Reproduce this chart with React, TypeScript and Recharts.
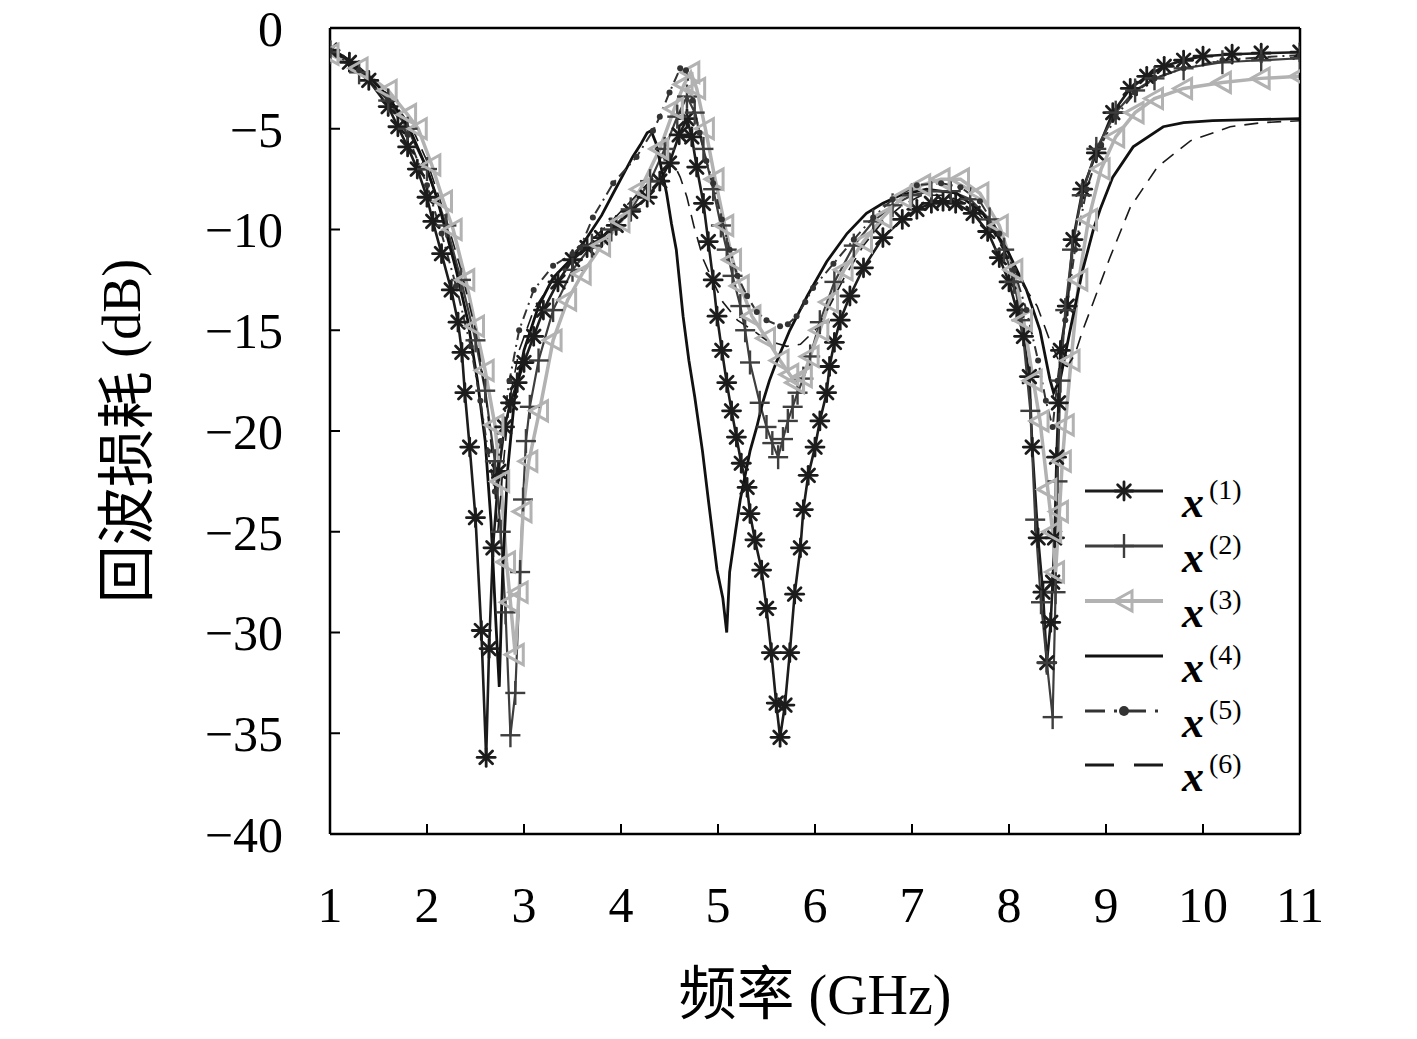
import React from 'react';
import { LineChart, Line, XAxis, YAxis } from 'recharts';

// ---- data (frequency in GHz, return loss in dB) ----
const freq1 = [1.0,1.2,1.4,1.6,1.7,1.8,1.9,2.0,2.06,2.15,2.25,2.32,2.36,2.39,2.44,2.5,2.56,2.61,2.64,2.68,2.74,2.8,2.86,2.93,3.0,3.1,3.2,3.35,3.5,3.65,3.8,3.95,4.1,4.27,4.4,4.5,4.6,4.68,4.73,4.78,4.85,4.9,4.95,4.99,5.04,5.09,5.14,5.19,5.24,5.3,5.33,5.38,5.45,5.5,5.55,5.6,5.64,5.69,5.74,5.79,5.85,5.88,5.93,6.0,6.05,6.12,6.15,6.2,6.26,6.36,6.5,6.7,6.9,7.05,7.2,7.32,7.45,7.63,7.78,7.9,8.0,8.08,8.15,8.21,8.24,8.3,8.35,8.39,8.43,8.45,8.47,8.49,8.51,8.53,8.6,8.66,8.76,8.9,9.07,9.25,9.42,9.6,9.8,10.0,10.3,10.6,11.0];
const loss1 = [-1.1,-1.7,-2.6,-3.9,-4.9,-5.9,-7.0,-8.4,-9.6,-11.2,-13.0,-14.6,-16.1,-18.1,-20.8,-24.3,-29.9,-36.2,-30.8,-25.8,-22.0,-19.8,-18.6,-17.6,-16.6,-15.3,-14.0,-12.6,-11.5,-10.9,-10.4,-9.8,-9.1,-8.4,-7.6,-6.7,-5.3,-4.5,-5.4,-6.9,-8.7,-10.6,-12.5,-14.3,-16.0,-17.6,-19.0,-20.3,-21.6,-22.8,-24.1,-25.4,-26.9,-28.8,-31.0,-33.5,-35.2,-33.6,-31.0,-28.1,-25.8,-23.9,-22.2,-20.8,-19.5,-18.1,-16.8,-15.6,-14.5,-13.3,-11.9,-10.4,-9.5,-9.0,-8.7,-8.6,-8.7,-9.2,-10.1,-11.4,-12.6,-14.0,-15.3,-17.3,-20.8,-25.3,-28.0,-31.5,-29.5,-27.5,-25.3,-21.3,-18.6,-16.0,-13.8,-10.5,-8.0,-6.2,-4.2,-3.0,-2.4,-1.9,-1.6,-1.4,-1.3,-1.25,-1.2];

const freq2 = [1.0,1.3,1.6,1.8,2.0,2.2,2.35,2.5,2.6,2.7,2.76,2.81,2.86,2.91,2.96,2.99,3.02,3.06,3.15,3.3,3.5,3.7,3.9,4.1,4.3,4.45,4.58,4.68,4.76,4.85,4.95,5.03,5.09,5.15,5.23,5.28,5.33,5.43,5.5,5.56,5.62,5.67,5.72,5.77,5.82,5.88,5.95,6.05,6.2,6.4,6.6,6.8,7.0,7.2,7.4,7.6,7.8,7.95,8.05,8.13,8.22,8.27,8.33,8.39,8.45,8.48,8.5,8.53,8.58,8.65,8.75,8.9,9.1,9.3,9.5,9.8,10.2,10.6,11.0];
const loss2 = [-1.2,-2.2,-3.6,-5.0,-7.0,-9.8,-12.5,-15.5,-18.0,-21.5,-25.0,-29.0,-35.1,-33.0,-27.0,-23.4,-20.5,-18.8,-16.5,-14.0,-12.0,-10.8,-10.0,-9.0,-7.6,-6.0,-4.4,-3.4,-4.2,-6.0,-8.0,-9.8,-11.0,-12.3,-13.8,-15.0,-16.6,-18.6,-19.8,-20.6,-21.3,-20.4,-19.5,-18.8,-18.1,-17.4,-16.3,-14.6,-12.6,-10.8,-9.6,-8.8,-8.3,-8.1,-8.1,-8.5,-9.5,-11.0,-12.6,-14.5,-19.0,-24.4,-28.5,-31.5,-34.2,-28.0,-22.5,-17.5,-14.0,-11.0,-8.3,-6.0,-4.2,-3.1,-2.5,-2.0,-1.7,-1.6,-1.5];

const freq3 = [1.0,1.3,1.6,1.8,1.91,2.05,2.17,2.27,2.4,2.5,2.6,2.7,2.76,2.82,2.86,2.91,2.95,2.99,3.05,3.16,3.3,3.45,3.6,3.8,4.0,4.2,4.4,4.55,4.65,4.72,4.78,4.87,4.97,5.07,5.15,5.23,5.35,5.5,5.64,5.74,5.8,5.88,5.95,6.05,6.15,6.3,6.5,6.7,6.9,7.1,7.3,7.5,7.7,7.9,8.05,8.15,8.25,8.32,8.4,8.45,8.48,8.52,8.55,8.58,8.64,8.72,8.82,8.95,9.1,9.3,9.5,9.8,10.2,10.6,11.0];
const loss3 = [-1.3,-2.0,-3.1,-4.3,-5.0,-6.8,-8.6,-10.0,-12.5,-14.8,-17.0,-19.7,-22.5,-26.5,-28.5,-31.1,-28.0,-24.0,-21.5,-19.0,-15.5,-13.5,-12.2,-10.8,-9.6,-8.0,-6.0,-4.0,-2.8,-2.2,-3.0,-5.0,-7.5,-9.8,-11.5,-12.8,-14.3,-15.4,-16.5,-17.2,-17.6,-17.3,-16.3,-15.0,-13.6,-12.0,-10.6,-9.4,-8.4,-7.8,-7.5,-7.5,-8.2,-9.8,-12.0,-14.5,-17.5,-19.5,-22.9,-25.0,-27.0,-24.0,-21.5,-19.7,-16.5,-12.5,-9.5,-7.0,-5.4,-4.2,-3.5,-3.0,-2.7,-2.5,-2.4];

const freq4 = [1.0,1.2,1.4,1.6,1.82,2.0,2.1,2.19,2.3,2.42,2.52,2.6,2.66,2.71,2.745,2.78,2.83,2.9,3.0,3.15,3.3,3.5,3.65,3.8,3.92,4.02,4.12,4.2,4.27,4.31,4.36,4.4,4.47,4.52,4.57,4.64,4.7,4.76,4.84,4.9,4.99,5.05,5.09,5.12,5.18,5.23,5.28,5.33,5.4,5.46,5.53,5.6,5.74,5.92,6.12,6.33,6.53,6.7,6.88,7.15,7.46,7.73,7.98,8.18,8.32,8.42,8.46,8.53,8.63,8.76,8.87,8.94,9.07,9.28,9.59,9.8,10.1,10.5,11.0];
const loss4 = [-1.0,-1.6,-2.4,-3.4,-5.0,-7.0,-8.4,-10.0,-12.0,-14.5,-17.5,-20.5,-24.5,-29.5,-32.7,-27.0,-22.0,-18.5,-16.0,-13.8,-12.4,-11.4,-10.4,-9.3,-8.2,-7.3,-6.4,-5.8,-5.2,-5.1,-5.7,-6.6,-8.2,-9.7,-11.0,-14.3,-16.5,-18.3,-21.0,-23.4,-26.9,-28.3,-30.0,-27.0,-25.0,-23.4,-22.2,-21.0,-19.8,-18.6,-17.5,-16.6,-15.0,-13.3,-11.6,-10.2,-9.2,-8.7,-8.3,-8.0,-8.2,-9.2,-11.0,-13.0,-15.0,-17.4,-18.1,-17.4,-15.0,-12.0,-10.0,-9.0,-7.4,-5.9,-4.9,-4.7,-4.6,-4.55,-4.5];

const freq5 = [1.0,1.3,1.6,1.8,2.0,2.15,2.3,2.45,2.55,2.63,2.7,2.76,2.85,2.95,3.1,3.3,3.5,3.58,3.71,3.92,4.16,4.33,4.4,4.5,4.61,4.67,4.74,4.81,4.88,4.95,5.04,5.12,5.2,5.3,5.4,5.5,5.64,5.72,5.81,5.9,5.98,6.19,6.4,6.6,6.8,7.05,7.3,7.5,7.7,7.9,8.05,8.18,8.3,8.38,8.45,8.5,8.58,8.68,8.8,8.95,9.1,9.3,9.5,9.8,10.2,10.6,11.0];
const loss5 = [-1.1,-2.1,-3.6,-5.3,-7.8,-10.2,-12.8,-15.8,-18.5,-21.0,-23.0,-20.5,-17.5,-15.0,-13.0,-11.8,-11.2,-10.9,-9.4,-7.7,-6.4,-5.1,-4.4,-3.2,-2.0,-2.1,-3.6,-5.2,-6.6,-7.7,-9.5,-11.0,-12.3,-13.3,-14.1,-14.5,-14.8,-14.7,-14.3,-13.6,-12.9,-11.7,-10.5,-9.4,-8.5,-7.8,-7.7,-7.9,-8.6,-10.2,-12.0,-14.0,-16.5,-18.5,-19.8,-17.5,-14.5,-11.0,-8.0,-5.8,-4.4,-3.2,-2.5,-2.0,-1.6,-1.45,-1.35];

const freq6 = [1.0,1.3,1.6,1.85,2.0,2.2,2.35,2.5,2.6,2.68,2.73,2.78,2.85,2.95,3.1,3.3,3.5,3.7,3.9,4.1,4.3,4.45,4.55,4.61,4.68,4.75,4.85,4.95,5.05,5.2,5.36,5.5,5.71,5.85,6.0,6.15,6.3,6.5,6.7,6.9,7.1,7.35,7.6,7.8,8.0,8.15,8.29,8.42,8.52,8.6,8.68,8.76,8.87,9.04,9.25,9.53,9.87,10.28,10.6,11.0];
const loss6 = [-1.1,-2.0,-3.3,-5.0,-6.6,-9.5,-12.0,-15.0,-18.0,-21.5,-25.0,-22.0,-18.5,-16.0,-14.0,-12.5,-11.5,-10.5,-9.6,-8.6,-7.6,-7.0,-6.8,-7.4,-8.4,-9.8,-11.5,-12.6,-13.6,-14.5,-15.0,-15.5,-15.8,-15.7,-15.0,-13.8,-12.4,-10.8,-9.6,-8.8,-8.3,-8.3,-8.8,-9.8,-11.5,-12.8,-13.8,-15.5,-16.6,-16.8,-16.2,-15.0,-13.6,-11.4,-8.9,-6.9,-5.6,-4.9,-4.7,-4.6];

const xTicks = [1, 2, 3, 4, 5, 6, 7, 8, 9, 10, 11];
const yTicks = [0, -5, -10, -15, -20, -25, -30, -35, -40];
const seriesNames = ['(1)', '(2)', '(3)', '(4)', '(5)', '(6)'];

const toRows = (f: number[], v: number[]) => f.map((x, i) => ({ f: x, v: v[i] }));
const data1 = toRows(freq1, loss1);
const data2 = toRows(freq2, loss2);
const data3 = toRows(freq3, loss3);
const data4 = toRows(freq4, loss4);
const data5 = toRows(freq5, loss5);
const data6 = toRows(freq6, loss6);

// ---- styles ----
const C1 = '#1c1c1c';
const C2 = '#3e3e3e';
const C3 = '#b2b2b2';
const C4 = '#111111';
const C5 = '#333333';
const C6 = '#1a1a1a';

const W = 1400;
const H = 1030;
const PLOT_TOP = 28;
const PLOT_LEFT = 322;
const PLOT_RIGHT = 1292;
const PLOT_BOTTOM = 834;

const AsteriskShape = ({ cx, cy, s = 9, color = C1 }: any) => (
  <g stroke={color} strokeWidth={2.8} strokeLinecap="round">
    <line x1={cx - s} y1={cy} x2={cx + s} y2={cy} />
    <line x1={cx} y1={cy - s} x2={cx} y2={cy + s} />
    <line x1={cx - s * 0.707} y1={cy - s * 0.707} x2={cx + s * 0.707} y2={cy + s * 0.707} />
    <line x1={cx - s * 0.707} y1={cy + s * 0.707} x2={cx + s * 0.707} y2={cy - s * 0.707} />
  </g>
);
const PlusShape = ({ cx, cy, color = C2 }: any) => (
  <g stroke={color} strokeWidth={2.4}>
    <line x1={cx - 10} y1={cy} x2={cx + 10} y2={cy} />
    <line x1={cx} y1={cy - 12} x2={cx} y2={cy + 12} />
  </g>
);
const TriShape = ({ cx, cy, color = C3 }: any) => (
  <polygon
    points={`${cx - 10},${cy} ${cx + 8},${cy - 10} ${cx + 8},${cy + 10}`}
    fill="none"
    stroke={color}
    strokeWidth={3}
  />
);

const dotAsterisk = (p: any) =>
  p.cx == null ? <g key={`a${p.index}`} /> : <g key={`a${p.index}`}><AsteriskShape cx={p.cx} cy={p.cy} /></g>;
const dotPlus = (p: any) =>
  p.cx == null ? <g key={`p${p.index}`} /> : <g key={`p${p.index}`}><PlusShape cx={p.cx} cy={p.cy} /></g>;
const dotTri = (p: any) =>
  p.cx == null ? <g key={`t${p.index}`} /> : <g key={`t${p.index}`}><TriShape cx={p.cx} cy={p.cy} /></g>;
const dotSmall = (p: any) =>
  p.cx == null ? <g key={`s${p.index}`} /> : <circle key={`s${p.index}`} cx={p.cx} cy={p.cy} r={3} fill={C5} />;

const serif = "'Liberation Serif', 'Noto Sans CJK SC', serif";
const cjk = "'Noto Sans CJK SC', sans-serif";
const tickStyle = { fill: '#000', fontSize: 50, fontFamily: serif };
const minusFmt = (v: number) => (v === 0 ? '0' : '\u2212' + Math.abs(v));
const blank = () => '';

const Overlay = () => {
  const rowY = [491, 546, 601, 656, 711, 765];
  const x0 = 1077;
  const x1 = 1155;
  const xm = 1116;
  const midY = (PLOT_TOP + PLOT_BOTTOM) / 2;
  return (
    <svg width={W} height={H} style={{ position: 'absolute', left: 0, top: 0, pointerEvents: 'none' }}>
      {/* axis titles */}
      <text
        x={114}
        y={midY}
        transform={`rotate(-90 114 ${midY})`}
        textAnchor="middle"
        dominantBaseline="central"
        fill="#000"
      >
        <tspan fontFamily={cjk} fontSize={58}>回波损耗</tspan>
        <tspan fontFamily={serif} fontSize={54}> (dB)</tspan>
      </text>
      <text x={(PLOT_LEFT + PLOT_RIGHT) / 2} y={1014} textAnchor="middle" fill="#000">
        <tspan fontFamily={cjk} fontSize={58}>频率</tspan>
        <tspan fontFamily={serif} fontSize={56}> (GHz)</tspan>
      </text>
      {/* legend */}
      <g>
        <line x1={x0} y1={rowY[0]} x2={x1} y2={rowY[0]} stroke={C1} strokeWidth={3} />
        <AsteriskShape cx={xm} cy={rowY[0]} s={9} />
        <line x1={x0} y1={rowY[1]} x2={x1} y2={rowY[1]} stroke={C2} strokeWidth={3} />
        <PlusShape cx={xm} cy={rowY[1]} />
        <line x1={x0} y1={rowY[2]} x2={x1} y2={rowY[2]} stroke={C3} strokeWidth={4} />
        <TriShape cx={xm} cy={rowY[2]} />
        <line x1={x0} y1={rowY[3]} x2={x1} y2={rowY[3]} stroke={C4} strokeWidth={3} />
        <line x1={x0} y1={rowY[4]} x2={x1} y2={rowY[4]} stroke={C5} strokeWidth={3} strokeDasharray="20 9 3 9" />
        <circle cx={xm} cy={rowY[4]} r={5} fill={C5} />
        <line x1={x0} y1={rowY[5]} x2={x1} y2={rowY[5]} stroke={C6} strokeWidth={3} strokeDasharray="29 20" />
        {rowY.map((y, i) => (
          <g key={i}>
            <text x={1174} y={y + 26} fontFamily={serif} fontSize={44} fontWeight="bold" fontStyle="italic" fill="#000">
              x
            </text>
            <text x={1201} y={y + 8} fontFamily={serif} fontSize={28} fill="#000">
              {seriesNames[i]}
            </text>
          </g>
        ))}
      </g>
    </svg>
  );
};

export default function App() {
  const axisLine = { stroke: '#000', strokeWidth: 2.5 };
  const tickLine = { stroke: '#000', strokeWidth: 2 };
  return (
    <div style={{ position: 'relative', width: W, height: H, marginTop: -8, background: '#fff' }}>
      <LineChart
        width={W}
        height={H}
        margin={{ top: PLOT_TOP - 1, right: W - PLOT_RIGHT - 1, left: 0, bottom: 0 }}
      >
        <XAxis
          dataKey="f"
          type="number"
          domain={[1, 11]}
          ticks={xTicks}
          allowDataOverflow
          height={H - PLOT_BOTTOM}
          tickSize={-10}
          tickMargin={62}
          tick={tickStyle}
          axisLine={axisLine}
          tickLine={tickLine}
          interval={0}
        />
        <XAxis
          xAxisId="top"
          orientation="top"
          dataKey="f"
          type="number"
          domain={[1, 11]}
          ticks={xTicks}
          height={1}
          tickSize={-10}
          tickFormatter={blank}
          axisLine={axisLine}
          tickLine={tickLine}
          interval={0}
        />
        <YAxis
          type="number"
          domain={[-40, 0]}
          ticks={yTicks}
          allowDataOverflow
          width={PLOT_LEFT}
          tickSize={-10}
          tickMargin={57}
          tick={tickStyle}
          tickFormatter={minusFmt}
          axisLine={axisLine}
          tickLine={tickLine}
          interval={0}
        />
        <YAxis
          yAxisId="right"
          orientation="right"
          type="number"
          domain={[-40, 0]}
          ticks={yTicks}
          width={1}
          tickSize={-10}
          tickFormatter={blank}
          axisLine={axisLine}
          tickLine={tickLine}
          interval={0}
        />
        <Line data={data1} dataKey="v" stroke={C1} strokeWidth={2.6} dot={dotAsterisk} activeDot={false} isAnimationActive={false} />
        <Line data={data2} dataKey="v" stroke={C2} strokeWidth={2.2} dot={dotPlus} activeDot={false} isAnimationActive={false} />
        <Line data={data3} dataKey="v" stroke={C3} strokeWidth={3.5} dot={dotTri} activeDot={false} isAnimationActive={false} />
        <Line data={data4} dataKey="v" stroke={C4} strokeWidth={2.8} dot={false} activeDot={false} isAnimationActive={false} />
        <Line data={data5} dataKey="v" stroke={C5} strokeWidth={2} strokeDasharray="10 5 2 5" dot={dotSmall} activeDot={false} isAnimationActive={false} />
        <Line data={data6} dataKey="v" stroke={C6} strokeWidth={1.6} strokeDasharray="14 9" dot={false} activeDot={false} isAnimationActive={false} />
      </LineChart>
      <Overlay />
    </div>
  );
}
